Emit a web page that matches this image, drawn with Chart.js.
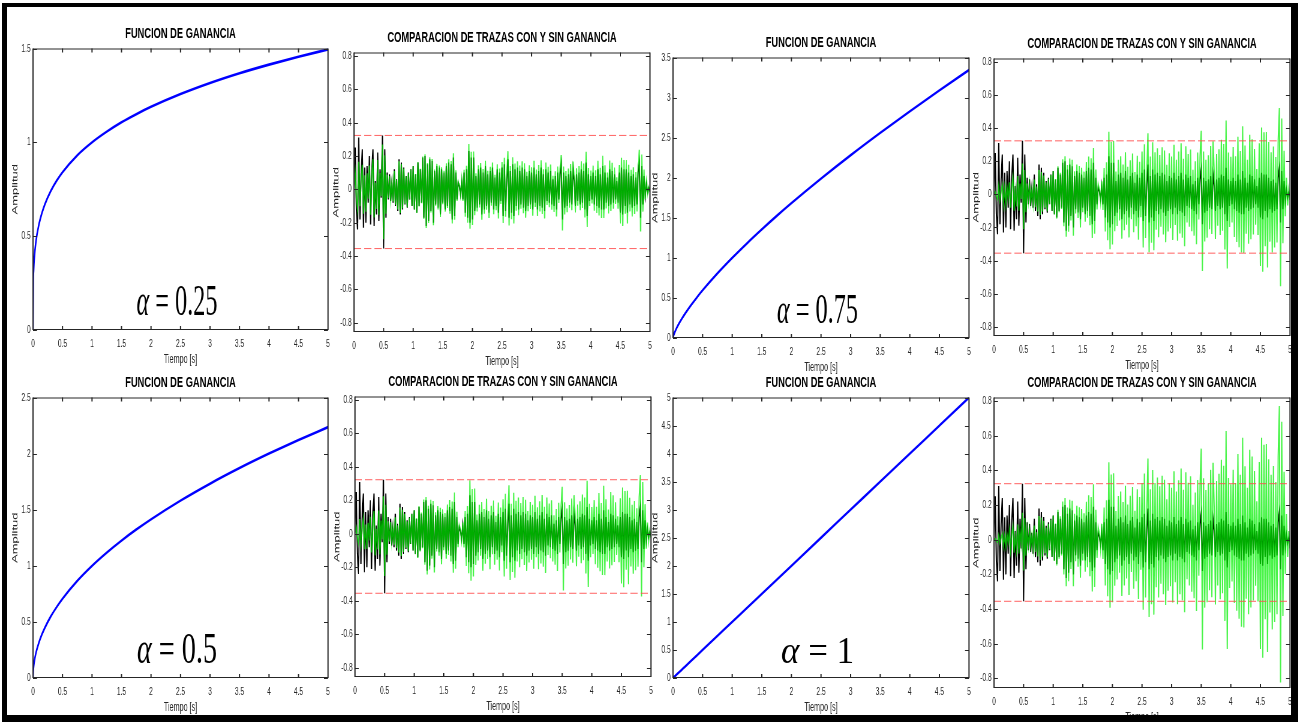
<!DOCTYPE html>
<html>
<head>
<meta charset="utf-8">
<script src="https://cdn.jsdelivr.net/npm/chart.js@4.4.1/dist/chart.umd.min.js"></script>
<style>
  html, body { margin: 0; padding: 0; background: #fff; overflow: hidden; width: 1298px; height: 722px; }
  .panel { position: absolute; transform-origin: 0 0; }
  #marco {
    position: absolute; left: 2px; top: 3px; width: 1296px; height: 719px;
    box-sizing: border-box; border: solid #000; border-width: 4px 7px 7px 5px;
    z-index: 10; pointer-events: none;
  }
</style>
</head>
<body>
<div id="marco"></div>
<script>
// ---------------- Datos ----------------
// Exponentes de la ganancia t^alpha de cada par de paneles
const alphas = [0.25, 0.75, 0.5, 1];

const tiemposGanancia = [0, 0.005, 0.01, 0.02, 0.05, 0.1, 0.15, 0.2, 0.3, 0.4, 0.5, 0.75, 1, 1.25, 1.5, 1.75, 2, 2.5, 3, 3.5, 4, 4.5, 5];
const ganancia025 = [0, 0.266, 0.316, 0.376, 0.473, 0.562, 0.622, 0.669, 0.740, 0.795, 0.841, 0.931, 1, 1.057, 1.107, 1.150, 1.189, 1.257, 1.316, 1.368, 1.414, 1.456, 1.495];
const ganancia075 = [0, 0.019, 0.032, 0.053, 0.106, 0.178, 0.241, 0.299, 0.405, 0.503, 0.595, 0.806, 1, 1.182, 1.355, 1.522, 1.682, 1.988, 2.280, 2.559, 2.828, 3.090, 3.344];
const ganancia05  = [0, 0.071, 0.100, 0.141, 0.224, 0.316, 0.387, 0.447, 0.548, 0.632, 0.707, 0.866, 1, 1.118, 1.225, 1.323, 1.414, 1.581, 1.732, 1.871, 2.000, 2.121, 2.236];
const ganancia1   = [0, 0.005, 0.010, 0.020, 0.050, 0.100, 0.150, 0.200, 0.300, 0.400, 0.500, 0.750, 1, 1.250, 1.500, 1.750, 2.000, 2.500, 3.000, 3.500, 4.000, 4.500, 5.000];

// Traza sismica original (sin ganancia), muestreo cada 0.02 s de 0 a 5 s
const dtTraza = 0.02;
const trazaOriginal = [
  0.00, 0.25, -0.12, -0.24, 0.31, -0.18, 0.09, 0.24, -0.23, 0.13,
  -0.20, 0.14, -0.08, 0.20, -0.21, 0.11, 0.24, -0.22, 0.05, -0.15,
  0.22, -0.19, 0.12, -0.05, 0.323, -0.355, 0.24, -0.17, 0.10, -0.06,
  0.09, -0.07, 0.04, -0.08, 0.12, -0.10, 0.06, -0.13, 0.18, -0.15,
  0.16, -0.12, 0.13, -0.09, 0.08, -0.11, 0.10, -0.06, 0.12, -0.10,
  0.14, -0.12, 0.09, -0.14, 0.16, -0.10, 0.12, -0.08, 0.19, -0.17,
  0.20, -0.22, 0.15, -0.19, 0.18, -0.13, 0.17, -0.20, 0.11, -0.09,
  0.14, -0.11, 0.13, -0.15, 0.12, -0.08, 0.10, -0.12, 0.14, -0.10,
  0.16, -0.13, 0.15, -0.18, 0.19, -0.16, 0.10, -0.06, 0.04, 0.02,
  -0.03, 0.05, -0.06, 0.10, -0.14, 0.12, -0.17, 0.23, -0.20, 0.19,
  -0.18, 0.19, -0.13, 0.08, -0.11, 0.12, -0.09, 0.13, -0.15, 0.10,
  -0.12, 0.14, -0.10, 0.09, -0.14, 0.11, -0.08, 0.13, -0.12, 0.07,
  -0.10, 0.12, -0.14, 0.10, -0.07, 0.13, -0.16, 0.15, -0.13, 0.06,
  0.18, -0.17, 0.11, -0.14, 0.15, -0.16, 0.12, -0.10, 0.13, -0.12,
  0.11, -0.09, 0.13, -0.11, 0.12, -0.13, 0.08, -0.10, 0.11, -0.09,
  0.10, -0.12, 0.13, -0.08, 0.09, -0.12, 0.11, -0.10, 0.13, -0.11,
  0.09, -0.13, 0.12, -0.07, 0.10, -0.08, 0.11, -0.09, 0.06, -0.10,
  0.08, -0.12, 0.10, -0.06, 0.09, 0.15, -0.18, 0.10, -0.11, 0.08,
  -0.10, 0.09, -0.08, 0.11, -0.09, 0.12, 0.05, -0.10, 0.09, -0.07,
  0.10, -0.09, 0.12, -0.08, 0.11, -0.12, 0.16, -0.16, 0.09, -0.07,
  0.08, -0.06, 0.10, -0.09, 0.08, -0.10, 0.12, -0.11, 0.09, -0.12,
  0.14, -0.12, 0.10, -0.08, 0.07, -0.10, 0.12, -0.09, 0.11, -0.08,
  0.09, -0.06, 0.05, -0.08, 0.10, -0.14, 0.13, -0.15, 0.12, -0.10,
  0.12, -0.14, 0.10, -0.09, 0.08, -0.11, 0.09, -0.10, 0.07, -0.09,
  0.10, 0.16, -0.17, 0.14, -0.09, 0.08, -0.04, 0.03, -0.02, 0.01,
  -0.01
];

// Marcas de los ejes
const ticksTiempo = [0, 0.5, 1, 1.5, 2, 2.5, 3, 3.5, 4, 4.5, 5];
const ticksTraza = [-0.8, -0.6, -0.4, -0.2, 0, 0.2, 0.4, 0.6, 0.8];
const ticksGan025 = [0, 0.5, 1, 1.5];
const ticksGan075 = [0, 0.5, 1, 1.5, 2, 2.5, 3, 3.5];
const ticksGan05 = [0, 0.5, 1, 1.5, 2, 2.5];
const ticksGan1 = [0, 0.5, 1, 1.5, 2, 2.5, 3, 3.5, 4, 4.5, 5];

// ---------------- Estilo y disposicion ----------------
const SX = 0.6;        // compresion horizontal de cada panel
const MARGEN = 30;     // margen lateral visible alrededor del area de trazado
const FUENTE = "'Liberation Sans', Arial, Helvetica, sans-serif";
const SERIF = "'Liberation Serif', 'DejaVu Serif', 'Times New Roman', serif";
Chart.defaults.font.family = FUENTE;

const paneles = [
  { tipo: 'gan', a: 0, gan: ganancia025, ticks: ticksGan025, ymax: 1.5, rect: [33, 48, 295, 282], txt: { size: 45, ancho: 81 } },
  { tipo: 'traza', a: 0, rect: [354, 52, 296, 280] },
  { tipo: 'gan', a: 1, gan: ganancia075, ticks: ticksGan075, ymax: 3.5, rect: [673, 57, 296, 281], txt: { size: 43, ancho: 81 } },
  { tipo: 'traza', a: 1, rect: [994, 58, 296, 278] },
  { tipo: 'gan', a: 2, gan: ganancia05, ticks: ticksGan05, ymax: 2.5, rect: [33, 397, 295, 281], txt: { size: 44, ancho: 80 } },
  { tipo: 'traza', a: 2, rect: [355, 396, 296, 281] },
  { tipo: 'gan', a: 3, gan: ganancia1, ticks: ticksGan1, ymax: 5, rect: [673, 397, 296, 281], txt: { size: 38, ancho: 73 } },
  { tipo: 'traza', a: 3, rect: [994, 397, 296, 291] }
];

// Marco de ejes con marcas hacia dentro (estilo MATLAB)
const marcoEjes = {
  id: 'marcoEjes',
  afterDraw(chart) {
    const { ctx, chartArea: a, scales: { x, y } } = chart;
    ctx.save();
    ctx.strokeStyle = '#262626';
    ctx.lineWidth = 1;
    ctx.beginPath();
    ctx.moveTo(a.left, a.top + 0.5); ctx.lineTo(a.right, a.top + 0.5);
    ctx.moveTo(a.left, a.bottom - 0.5); ctx.lineTo(a.right, a.bottom - 0.5);
    y.ticks.forEach(t => {
      const p = Math.round(y.getPixelForValue(t.value)) + 0.5;
      ctx.moveTo(a.left, p); ctx.lineTo(a.left + 4 / SX, p);
      ctx.moveTo(a.right, p); ctx.lineTo(a.right - 4 / SX, p);
    });
    ctx.stroke();
    ctx.lineWidth = 1.2 / SX;
    ctx.beginPath();
    ctx.moveTo(a.left, a.top); ctx.lineTo(a.left, a.bottom);
    ctx.moveTo(a.right, a.top); ctx.lineTo(a.right, a.bottom);
    x.ticks.forEach(t => {
      const p = x.getPixelForValue(t.value);
      ctx.moveTo(p, a.bottom); ctx.lineTo(p, a.bottom - 4);
      ctx.moveTo(p, a.top); ctx.lineTo(p, a.top + 4);
    });
    ctx.stroke();
    ctx.restore();
  }
};

// Rotulo "α = valor" dentro de los paneles de ganancia
const rotuloAlfa = {
  id: 'rotuloAlfa',
  afterDraw(chart, args, o) {
    if (!o || !o.texto) return;
    const { ctx, chartArea: a } = chart;
    const fA = `italic ${o.size}px ${SERIF}`;
    const fN = `${o.size}px ${SERIF}`;
    const resto = ' = ' + o.texto;
    ctx.save();
    ctx.font = fA; const wA = ctx.measureText('α').width;
    ctx.font = fN; const wR = ctx.measureText(resto).width;
    const objetivo = o.ancho / SX;
    const k = objetivo / (wA + wR);
    const cx = (a.left + a.right) / 2 - 3.5 / SX;
    ctx.translate(cx - objetivo / 2, a.bottom - 15);
    ctx.scale(k, 1);
    ctx.fillStyle = '#000';
    ctx.textBaseline = 'alphabetic';
    ctx.font = fA; ctx.fillText('α', 0, 0);
    ctx.font = fN; ctx.fillText(resto, wA, 0);
    ctx.restore();
  }
};

function puntos(xs, ys) { return ys.map((v, i) => ({ x: xs[i], y: v })); }

function crearPanel(p) {
  const [px, py, pw, ph] = p.rect;
  const W = Math.round((pw + 2 * MARGEN) / SX);
  const H = ph + 70;
  const lado = MARGEN / SX;
  const wrap = document.createElement('div');
  wrap.className = 'panel';
  wrap.style.left = (px - MARGEN) + 'px';
  wrap.style.top = (py - 30) + 'px';
  wrap.style.width = W + 'px';
  wrap.style.height = H + 'px';
  wrap.style.transform = `scaleX(${SX})`;
  const cv = document.createElement('canvas');
  cv.width = W; cv.height = H;
  wrap.appendChild(cv);
  document.body.appendChild(wrap);

  const alpha = alphas[p.a];
  let datasets, yTicks, ymin, ymax, titulo;
  if (p.tipo === 'gan') {
    titulo = 'FUNCION DE GANANCIA';
    yTicks = p.ticks; ymin = 0; ymax = p.ymax;
    datasets = [{
      data: puntos(tiemposGanancia, p.gan),
      borderColor: '#0000ff', borderWidth: 2.6, pointRadius: 0,
      cubicInterpolationMode: 'monotone'
    }];
  } else {
    titulo = 'COMPARACION DE TRAZAS CON Y SIN GANANCIA';
    yTicks = ticksTraza; ymin = -0.855; ymax = 0.82;
    const tiempos = trazaOriginal.map((v, i) => i * dtTraza);
    const conGanancia = trazaOriginal.map((v, i) => v * Math.pow(tiempos[i], alpha));
    const maxOrig = Math.max(...trazaOriginal);
    const minOrig = Math.min(...trazaOriginal);
    const limite = (val) => ({
      data: [{ x: 0, y: val }, { x: 5, y: val }],
      borderColor: 'rgba(255,70,70,0.85)', borderWidth: 1, borderDash: [12, 5],
      pointRadius: 0, order: -1
    });
    datasets = [
      // traza con ganancia, semitransparente sobre la original
      { data: puntos(tiempos, conGanancia), borderColor: 'rgba(0,240,0,0.72)', borderWidth: 2.0, pointRadius: 0, order: 0 },
      { data: puntos(tiempos, trazaOriginal), borderColor: '#000000', borderWidth: 2.0, pointRadius: 0, order: 1 },
      limite(maxOrig), limite(minOrig)
    ];
  }

  const colorTick = '#262626';
  new Chart(cv, {
    type: 'line',
    data: { datasets },
    options: {
      responsive: false,
      animation: false,
      events: [],
      layout: { padding: { left: 0, top: 0, bottom: 0, right: W - lado - pw / SX } },
      plugins: {
        legend: { display: false },
        tooltip: { enabled: false },
        title: {
          display: true, fullSize: false, text: titulo, color: '#000',
          font: { family: FUENTE, size: 15.5, weight: 'bold', lineHeight: 1 },
          padding: { top: 8, bottom: 7 }
        },
        rotuloAlfa: p.txt ? { texto: String(alpha), size: p.txt.size, ancho: p.txt.ancho } : {}
      },
      scales: {
        x: {
          type: 'linear', min: 0, max: 5,
          afterBuildTicks: s => { s.ticks = ticksTiempo.map(v => ({ value: v })); },
          afterFit: s => { s.height = 40; },
          grid: { display: false, drawTicks: false },
          border: { display: false },
          ticks: { color: colorTick, font: { size: 11, lineHeight: 1 }, padding: 8, maxRotation: 0, autoSkip: false, callback: v => String(v) },
          title: { display: true, text: 'Tiempo [s]', color: colorTick, font: { size: 12, lineHeight: 1 }, padding: { top: 0, bottom: 4 } }
        },
        y: {
          type: 'linear', min: ymin, max: ymax,
          afterBuildTicks: s => { s.ticks = yTicks.map(v => ({ value: v })); },
          afterFit: s => { s.width = lado; },
          grid: { display: false, drawTicks: false },
          border: { display: false },
          ticks: { color: colorTick, font: { size: 11, lineHeight: 1 }, padding: 4, autoSkip: false, callback: v => String(v) },
          title: { display: true, text: 'Amplitud', color: colorTick, font: { size: 13, lineHeight: 1 }, padding: { top: 13.5, bottom: 0 } }
        }
      }
    },
    plugins: [marcoEjes, rotuloAlfa]
  });
}

paneles.forEach(crearPanel);
</script>
</body>
</html>
